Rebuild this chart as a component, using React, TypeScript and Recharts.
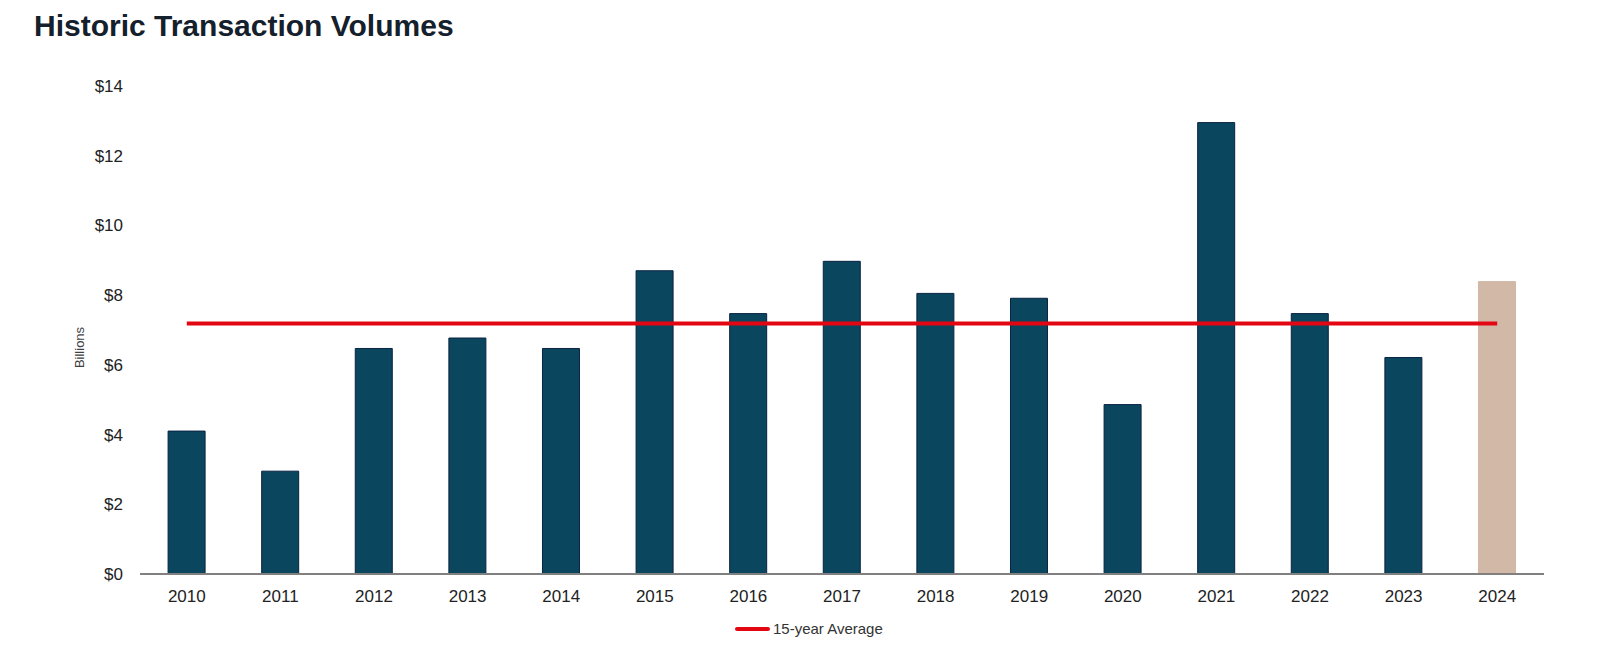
import React from "react";
import {
  ComposedChart,
  Bar,
  Line,
  XAxis,
  YAxis,
  Legend,
  Cell,
} from "recharts";

// values (billions USD)
const years = [
  "2010", "2011", "2012", "2013", "2014", "2015", "2016", "2017",
  "2018", "2019", "2020", "2021", "2022", "2023", "2024",
];
const volumes = [
  4.1, 2.95, 6.47, 6.77, 6.47, 8.7, 7.47, 8.97, 8.05, 7.91, 4.86, 12.95, 7.47,
  6.21, 8.39,
];
const average = [
  7.19, 7.19, 7.19, 7.19, 7.19, 7.19, 7.19, 7.19, 7.19, 7.19, 7.19, 7.19, 7.19,
  7.19, 7.19,
];
const yTicks = [0, 2, 4, 6, 8, 10, 12, 14];

const NAVY = "#0B465F";
const TAN = "#D2B8A7";
const RED = "#E30613";
const FONT = "'Liberation Sans', Arial, sans-serif";

const chartData = years.map((year, i) => ({
  year,
  volume: volumes[i],
  avg: average[i],
}));

const BillionsLabel = () => {
  const cx = 79.5;
  const cy = 347.5;
  return (
    <text
      x={cx}
      y={cy}
      transform={`rotate(-90, ${cx}, ${cy})`}
      textAnchor="middle"
      dominantBaseline="central"
      fontSize={13}
      fontFamily={FONT}
      fill="#404040"
    >
      Billions
    </text>
  );
};

const AverageLegend = ({ payload }: any) => {
  const items = (payload || []).filter((p: any) => p.dataKey === "avg");
  return (
    <div style={{ display: "flex", alignItems: "center" }}>
      {items.map((entry: any, i: number) => (
        <div key={i} style={{ display: "flex", alignItems: "center" }}>
          <div
            style={{
              width: 35,
              height: 4,
              borderRadius: 2,
              backgroundColor: RED,
              marginRight: 3,
            }}
          />
          <span
            style={{ fontSize: 15, fontFamily: FONT, color: "#333333" }}
          >
            {entry.value}
          </span>
        </div>
      ))}
    </div>
  );
};

const App: React.FC = () => {
  return (
    <div
      style={{
        position: "absolute",
        left: 0,
        top: 0,
        width: 1600,
        height: 646,
        background: "#ffffff",
        overflow: "hidden",
      }}
    >
      <div
        style={{
          position: "absolute",
          left: 34,
          top: 11,
          fontFamily: FONT,
          fontWeight: 700,
          fontSize: 30,
          lineHeight: "30px",
          color: "#14202c",
          whiteSpace: "nowrap",
        }}
      >
        Historic Transaction Volumes
      </div>
      <ComposedChart
        width={1600}
        height={646}
        data={chartData}
        margin={{ top: 86, right: 56, bottom: 32, left: 60 }}
        barCategoryGap="30%"
      >
        <XAxis
          dataKey="year"
          axisLine={{ stroke: "#808080", strokeWidth: 2 }}
          tickLine={false}
          tickSize={0}
          tickMargin={16}
          height={40}
          interval={0}
          tick={{ fontSize: 17, fill: "#222222", fontFamily: FONT }}
        />
        <YAxis
          width={80}
          domain={[0, 14]}
          ticks={yTicks}
          axisLine={false}
          tickLine={false}
          tickSize={0}
          tickMargin={17}
          tickFormatter={(v: number) => `$${v}`}
          tick={{ fontSize: 17, fill: "#222222", fontFamily: FONT }}
          label={<BillionsLabel />}
        />
        <Legend
          layout="horizontal"
          verticalAlign="middle"
          align="center"
          content={<AverageLegend />}
          wrapperStyle={{ left: 735, top: 620, width: "auto" }}
        />
        <Bar
          dataKey="volume"
          name="Volume"
          fill={NAVY}
          stroke="#0a2240"
          strokeWidth={1}
          legendType="none"
          isAnimationActive={false}
        >
          {chartData.map((d, i) => (
            <Cell
              key={d.year}
              fill={i === chartData.length - 1 ? TAN : NAVY}
              stroke={i === chartData.length - 1 ? TAN : "#0a2240"}
            />
          ))}
        </Bar>
        <Line
          dataKey="avg"
          name="15-year Average"
          type="linear"
          stroke={RED}
          strokeWidth={4}
          dot={false}
          activeDot={false}
          isAnimationActive={false}
        />
      </ComposedChart>
    </div>
  );
};

export default App;
